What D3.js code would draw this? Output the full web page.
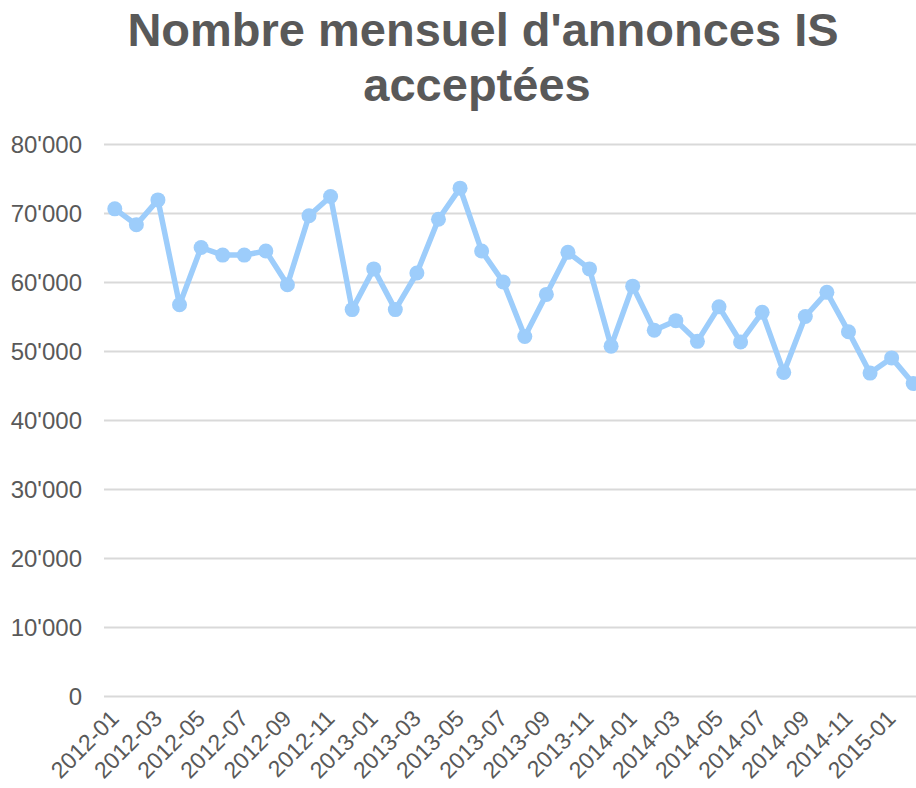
<!DOCTYPE html>
<html>
<head>
<meta charset="utf-8">
<script src="https://cdn.jsdelivr.net/npm/d3@7"></script>
<style>
  body { margin: 0; background: #fff; }
  svg { font-family: "Liberation Sans", Arial, sans-serif; }
</style>
</head>
<body>
<div id="chart"></div>
<script>
var months = ["2012-01","2012-02","2012-03","2012-04","2012-05","2012-06","2012-07","2012-08","2012-09","2012-10","2012-11","2012-12",
              "2013-01","2013-02","2013-03","2013-04","2013-05","2013-06","2013-07","2013-08","2013-09","2013-10","2013-11","2013-12",
              "2014-01","2014-02","2014-03","2014-04","2014-05","2014-06","2014-07","2014-08","2014-09","2014-10","2014-11","2014-12",
              "2015-01","2015-02"];
var annonces = [70600, 68300, 71900, 56700, 65000, 63900, 63900, 64500, 59600, 69600, 72400, 56000,
                61900, 56000, 61300, 69100, 73600, 64500, 60000, 52100, 58200, 64300, 61900, 50700,
                59400, 53000, 54400, 51400, 56400, 51300, 55600, 46900, 55000, 58500, 52800, 46800,
                49000, 45300];
var yTicks = [0, 10000, 20000, 30000, 40000, 50000, 60000, 70000, 80000];
var xTickLabels = months.filter(function(m, i) { return i % 2 == 0; });

var width = 916, height = 788;
var svg = d3.select("#chart").append("svg").attr("width", width).attr("height", height);

var x = d3.scalePoint().domain(months).range([104, 924]).padding(0.5);
var y = d3.scaleLinear().domain([0, 80000]).range([696, 144]);

var fmt = function(d) { return d3.format(",")(d).replace(/,/g, "'"); };

// title
svg.append("text").attr("x", 483).attr("y", 46).attr("text-anchor", "middle")
   .style("font-size", "47px").style("font-weight", "bold").attr("fill", "#595959")
   .text("Nombre mensuel d'annonces IS");
svg.append("text").attr("x", 477).attr("y", 101).attr("text-anchor", "middle")
   .style("font-size", "47px").style("font-weight", "bold").attr("fill", "#595959")
   .text("acceptées");

// gridlines + y labels
var yAxis = d3.axisLeft(y).tickValues(yTicks).tickSize(-(width - 104)).tickFormat(fmt).tickPadding(22);
var gy = svg.append("g").attr("transform", "translate(104,0)").call(yAxis);
gy.select(".domain").remove();
gy.selectAll(".tick line").attr("stroke", "#d9d9d9").attr("stroke-width", 2);
gy.selectAll(".tick text").attr("fill", "#595959").style("font-size", "24px").attr("dy", "0.36em");

// x labels
var xAxis = d3.axisBottom(x).tickValues(xTickLabels).tickSize(0);
var gx = svg.append("g").attr("transform", "translate(0,696)").call(xAxis);
gx.select(".domain").remove();
gx.selectAll(".tick text")
  .attr("fill", "#595959").style("font-size", "23px")
  .attr("text-anchor", "end")
  .attr("x", 0).attr("y", 0).attr("dy", 0)
  .attr("transform", "translate(5,24) rotate(-45)");

// line and markers
var line = d3.line().x(function(d, i) { return x(months[i]); }).y(function(d) { return y(d); });
svg.append("path").datum(annonces).attr("d", line)
   .attr("fill", "none").attr("stroke", "#9dcdfb").attr("stroke-width", 5.5).attr("stroke-linejoin", "round");
svg.selectAll("circle.pt").data(annonces).enter().append("circle").attr("class", "pt")
   .attr("cx", function(d, i) { return x(months[i]); })
   .attr("cy", function(d) { return y(d); })
   .attr("r", 7.5).attr("fill", "#9dcdfb");
</script>
</body>
</html>
